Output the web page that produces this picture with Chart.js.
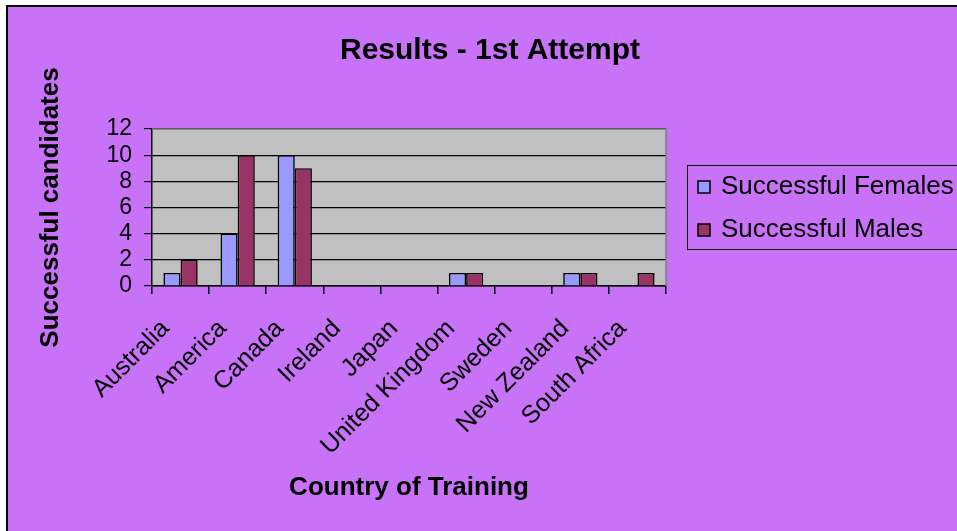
<!DOCTYPE html>
<html>
<head>
<meta charset="utf-8">
<title>Results - 1st Attempt</title>
<script src="https://cdn.jsdelivr.net/npm/chart.js@4.4.1/dist/chart.umd.min.js"></script>
<style>
    html, body { margin: 0; padding: 0; background: #fff; }
    canvas { display: block; }
</style>
</head>
<body>
<canvas id="resultsChart" width="957" height="531"></canvas>
<script>
// --- DADOS ---
const categories = ['Australia', 'America', 'Canada', 'Ireland', 'Japan', 'United Kingdom', 'Sweden', 'New Zealand', 'South Africa'];
const femaleValues = [1, 4, 10, 0, 0, 1, 0, 1, 0];
const maleValues = [2, 10, 9, 0, 0, 1, 0, 1, 1];
const yTicks = [0, 2, 4, 6, 8, 10, 12];

const FONT = 'Arial, "Liberation Sans", sans-serif';
const PURPLE = '#c872f8';

// --- FUNDO, TITULO E LEGENDA ---
const framePlugin = {
    id: 'frame',
    beforeDraw(chart) {
        const { ctx, chartArea: a } = chart;
        ctx.save();
        ctx.fillStyle = '#fff';
        ctx.fillRect(0, 0, chart.width, chart.height);
        ctx.fillStyle = PURPLE;
        ctx.fillRect(7, 6, chart.width, chart.height);
        ctx.strokeStyle = '#000';
        ctx.lineWidth = 2;
        ctx.beginPath();
        ctx.moveTo(7, chart.height);
        ctx.lineTo(7, 6);
        ctx.lineTo(chart.width, 6);
        ctx.stroke();
        ctx.fillStyle = '#c0c0c0';
        ctx.fillRect(a.left, a.top, a.right - a.left, a.bottom - a.top);
        ctx.restore();
    },
    afterDraw(chart) {
        const { ctx, chartArea: a } = chart;
        ctx.save();
        // borda cinza do plot
        ctx.strokeStyle = '#808080';
        ctx.lineWidth = 1.5;
        ctx.beginPath();
        ctx.moveTo(a.left, a.top);
        ctx.lineTo(a.right, a.top);
        ctx.lineTo(a.right, a.bottom);
        ctx.stroke();

        // titulo
        ctx.fillStyle = '#000';
        ctx.font = 'bold 30px ' + FONT;
        ctx.textAlign = 'center';
        ctx.textBaseline = 'alphabetic';
        ctx.fillText('Results - 1st Attempt', 490, 59);

        // legenda
        ctx.fillStyle = PURPLE;
        ctx.fillRect(687, 165, 300, 84);
        ctx.strokeStyle = '#000';
        ctx.lineWidth = 1;
        ctx.strokeRect(687.5, 165.5, 300, 84);
        ctx.font = '26px ' + FONT;
        ctx.textAlign = 'left';
        ctx.textBaseline = 'middle';
        chart.data.datasets.forEach((ds, i) => {
            const cy = 187 + i * 43;
            ctx.fillStyle = ds.backgroundColor;
            ctx.fillRect(698, cy - 6, 12, 12);
            ctx.strokeStyle = '#000';
            ctx.lineWidth = 1.5;
            ctx.strokeRect(698, cy - 6, 12, 12);
            ctx.fillStyle = '#000';
            ctx.fillText(ds.label, 721, cy);
        });
        ctx.restore();
    }
};

// --- GRAFICO ---
new Chart(document.getElementById('resultsChart'), {
    type: 'bar',
    data: {
        labels: categories,
        datasets: [
            { label: 'Successful Females', data: femaleValues, backgroundColor: '#9999ff', borderColor: '#000', borderWidth: 1.6 },
            { label: 'Successful Males', data: maleValues, backgroundColor: '#993366', borderColor: '#000', borderWidth: 1.6 }
        ]
    },
    options: {
        responsive: false,
        animation: false,
        layout: { padding: { left: 30, top: 129, right: 291, bottom: 24 } },
        datasets: { bar: { categoryPercentage: 0.6, barPercentage: 1 } },
        plugins: { legend: { display: false }, tooltip: { enabled: false } },
        scales: {
            x: {
                offset: true,
                afterFit: s => { s.height = 221; },
                border: { color: '#000', width: 1.5 },
                grid: { drawOnChartArea: false, offset: true, color: '#000', tickLength: 8, lineWidth: 1.5 },
                ticks: { color: '#000', font: { family: FONT, size: 25 }, autoSkip: false, maxRotation: 45, minRotation: 45, padding: 20, labelOffset: -15 },
                title: { display: true, text: 'Country of Training', color: '#000', font: { family: FONT, size: 26, weight: 'bold' }, padding: { top: 0, bottom: 4 } }
            },
            y: {
                min: yTicks[0],
                max: yTicks[yTicks.length - 1],
                afterFit: s => { s.width = 122; },
                afterBuildTicks: s => { s.ticks = yTicks.map(v => ({ value: v })); },
                border: { color: '#000', width: 1.5 },
                grid: { color: '#000', tickLength: 8, lineWidth: 1.2 },
                ticks: { color: '#000', font: { family: FONT, size: 23 }, padding: 12, autoSkip: false },
                title: { display: true, text: 'Successful candidates', color: '#000', font: { family: FONT, size: 26, weight: 'bold' }, padding: { top: 5, bottom: 0 } }
            }
        }
    },
    plugins: [framePlugin]
});
</script>
</body>
</html>
